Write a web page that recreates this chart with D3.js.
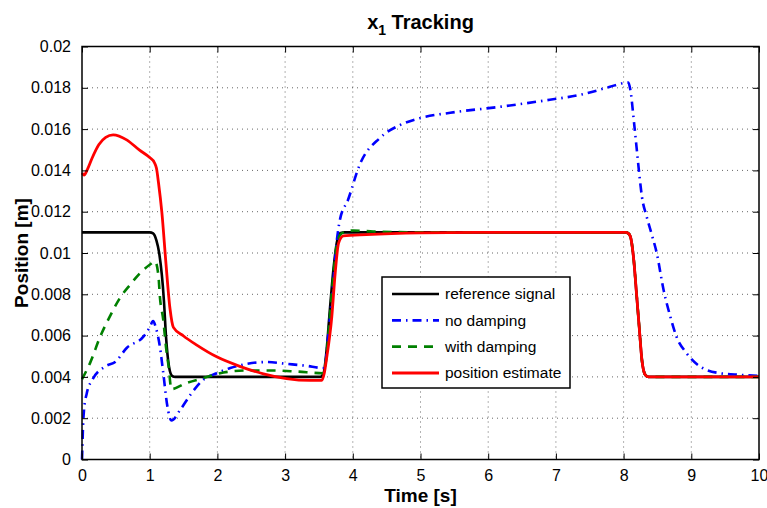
<!DOCTYPE html>
<html>
<head>
<meta charset="utf-8">
<script src="https://cdn.jsdelivr.net/npm/d3@7/dist/d3.min.js"></script>
<style>
  html, body { margin: 0; padding: 0; background: #fff; }
  svg { display: block; font-family: "Liberation Sans", Arial, Helvetica, sans-serif; }
</style>
</head>
<body>
<svg id="chart" width="767" height="508"></svg>
<script>
// ---- data ----
const xTicks = [0, 1, 2, 3, 4, 5, 6, 7, 8, 9, 10];
const yTicks = [0, 0.002, 0.004, 0.006, 0.008, 0.01, 0.012, 0.014, 0.016, 0.018, 0.02];
const yTickLabels = ["0", "0.002", "0.004", "0.006", "0.008", "0.01", "0.012", "0.014", "0.016", "0.018", "0.02"];
const seriesNames = ["reference signal", "no damping", "with damping", "position estimate"];

const referenceSignal = [
  [0, 0.011], [1.0, 0.011], [1.05, 0.01095], [1.1, 0.0106], [1.14, 0.01], [1.21, 0.0077],
  [1.24, 0.006], [1.285, 0.0045], [1.33, 0.00405], [1.38, 0.004], [3.52, 0.004],
  [3.57, 0.0042], [3.61, 0.0052], [3.66, 0.0072], [3.72, 0.0094], [3.77, 0.0106],
  [3.82, 0.01097], [3.88, 0.011], [8.03, 0.011], [8.07, 0.01095], [8.1, 0.0108],
  [8.15, 0.00967], [8.19, 0.00806], [8.23, 0.00644], [8.27, 0.00483], [8.32, 0.0041],
  [8.37, 0.004], [10, 0.004]
];

const noDamping = [
  [0, 0], [0.005, 0.0005], [0.015, 0.0016], [0.03, 0.0024], [0.07, 0.0032], [0.16, 0.0039],
  [0.34, 0.0045], [0.5, 0.00475], [0.66, 0.0054], [0.91, 0.00596], [1.0, 0.0064],
  [1.05, 0.0067], [1.09, 0.0064], [1.15, 0.00547], [1.2, 0.0042], [1.26, 0.0026],
  [1.32, 0.00189], [1.45, 0.0024], [1.6, 0.00313], [1.79, 0.00386], [1.99, 0.00418],
  [2.19, 0.00443], [2.43, 0.00463], [2.72, 0.00472], [3.02, 0.00463], [3.31, 0.00454],
  [3.56, 0.00443], [3.6, 0.0048], [3.64, 0.00612], [3.71, 0.00854], [3.76, 0.01048],
  [3.81, 0.01161], [3.93, 0.01258], [4.1, 0.01426], [4.4, 0.01557], [4.7, 0.0162],
  [5.0, 0.01654], [5.44, 0.01679], [6.17, 0.01708], [6.91, 0.01742], [7.36, 0.01766],
  [7.8, 0.01805], [8.0, 0.01823], [8.07, 0.01825], [8.1, 0.0179], [8.15, 0.01645],
  [8.19, 0.01516], [8.23, 0.01387], [8.27, 0.01274], [8.34, 0.01177], [8.41, 0.01096],
  [8.49, 0.00999], [8.59, 0.00822], [8.69, 0.00692], [8.78, 0.00596], [8.93, 0.00515],
  [9.13, 0.0045], [9.42, 0.00418], [9.72, 0.0041], [10, 0.00405]
];

const withDamping = [
  [0, 0.00389], [0.05, 0.0042], [0.12, 0.00468], [0.27, 0.00596], [0.41, 0.00692],
  [0.56, 0.00782], [0.71, 0.00846], [0.88, 0.0091], [1.0, 0.00943], [1.08, 0.00959],
  [1.13, 0.00886], [1.15, 0.0079], [1.2, 0.00677], [1.24, 0.00547], [1.28, 0.0045],
  [1.32, 0.00341], [1.54, 0.0037], [1.79, 0.00394], [2.09, 0.00421], [2.43, 0.00431],
  [2.83, 0.00431], [3.17, 0.00426], [3.56, 0.00418], [3.6, 0.0047], [3.65, 0.0065],
  [3.71, 0.0088], [3.77, 0.0105], [3.84, 0.01096], [4.01, 0.01109], [4.3, 0.01104],
  [5.0, 0.011], [8.03, 0.011], [8.07, 0.01095], [8.1, 0.0108], [8.15, 0.00967],
  [8.19, 0.00806], [8.23, 0.00644], [8.27, 0.00483], [8.32, 0.0041], [8.37, 0.004],
  [10, 0.004]
];

const positionEstimate = [
  [0, 0.01387], [0.03, 0.01377], [0.08, 0.01405], [0.15, 0.0146], [0.25, 0.01525],
  [0.35, 0.0156], [0.46, 0.01572], [0.66, 0.01548], [0.85, 0.01498], [1.0, 0.01462],
  [1.07, 0.01437], [1.1, 0.0141], [1.13, 0.0134], [1.18, 0.01195], [1.24, 0.0095],
  [1.3, 0.0073], [1.35, 0.0064], [1.5, 0.00598], [1.69, 0.00555], [1.99, 0.00497],
  [2.34, 0.0045], [2.68, 0.00415], [3.02, 0.00392], [3.37, 0.00383], [3.54, 0.00383],
  [3.58, 0.0042], [3.61, 0.00483], [3.69, 0.00692], [3.74, 0.00903], [3.79, 0.01048],
  [3.86, 0.01083], [4.2, 0.01089], [5.0, 0.01097], [6.0, 0.011], [8.03, 0.011],
  [8.07, 0.01095], [8.1, 0.0108], [8.15, 0.00967], [8.19, 0.00806], [8.23, 0.00644],
  [8.27, 0.00483], [8.32, 0.0041], [8.37, 0.004], [10, 0.004]
];

// ---- layout ----
const svg = d3.select("#chart");
const pL = 82, pR = 759, pT = 46.5, pB = 459.5;
const x = d3.scaleLinear().domain([0, 10]).range([pL, pR]);
const y = d3.scaleLinear().domain([0, 0.02]).range([pB, pT]);

const series = [
  { name: seriesNames[0], data: referenceSignal, color: "#000000", width: 2.6, dash: null },
  { name: seriesNames[1], data: noDamping, color: "#0000ff", width: 2.6, dash: "9,5,1.5,5" },
  { name: seriesNames[2], data: withDamping, color: "#008000", width: 2.6, dash: "9,7" },
  { name: seriesNames[3], data: positionEstimate, color: "#ff0000", width: 2.8, dash: null }
];

// grid
const grid = svg.append("g");
grid.selectAll("line.gx").data(xTicks.slice(1, -1)).join("line")
  .attr("x1", d => x(d)).attr("x2", d => x(d)).attr("y1", pT).attr("y2", pB)
  .attr("stroke", "#000").attr("stroke-opacity", 0.6).attr("stroke-width", 1)
  .attr("stroke-dasharray", "1,4");
grid.selectAll("line.gy").data(yTicks.slice(1, -1)).join("line")
  .attr("y1", d => y(d)).attr("y2", d => y(d)).attr("x1", pL).attr("x2", pR)
  .attr("stroke", "#000").attr("stroke-opacity", 0.6).attr("stroke-width", 1)
  .attr("stroke-dasharray", "1,4");

// lines
const line = d3.line().x(d => x(d[0])).y(d => y(d[1])).curve(d3.curveMonotoneX);
const lines = svg.append("g");
series.forEach(s => {
  lines.append("path").datum(s.data).attr("d", line)
    .attr("fill", "none").attr("stroke", s.color).attr("stroke-width", s.width)
    .attr("stroke-dasharray", s.dash).attr("stroke-linejoin", "round");
});

// axes (MATLAB box with inward ticks on all sides)
const tickLen = 6;
const axBottom = svg.append("g").attr("transform", `translate(0,${pB})`)
  .call(d3.axisBottom(x).tickValues(xTicks).tickSize(-tickLen).tickPadding(tickLen + 4).tickFormat(d3.format("d")));
const axTop = svg.append("g").attr("transform", `translate(0,${pT})`)
  .call(d3.axisTop(x).tickValues(xTicks).tickSize(-tickLen).tickFormat(""));
const axLeft = svg.append("g").attr("transform", `translate(${pL},0)`)
  .call(d3.axisLeft(y).tickValues(yTicks).tickSize(-tickLen).tickPadding(tickLen + 5).tickFormat((d, i) => yTickLabels[i]));
const axRight = svg.append("g").attr("transform", `translate(${pR},0)`)
  .call(d3.axisRight(y).tickValues(yTicks).tickSize(-tickLen).tickFormat(""));
[axBottom, axTop, axLeft, axRight].forEach(a => {
  a.select(".domain").remove();
  a.selectAll(".tick line").attr("stroke", "#000").attr("stroke-width", 1);
  a.selectAll("text").attr("font-size", 16).attr("fill", "#000")
    .attr("font-family", "'Liberation Sans', Arial, sans-serif");
});
svg.append("rect").attr("x", pL).attr("y", pT).attr("width", pR - pL).attr("height", pB - pT)
  .attr("fill", "none").attr("stroke", "#000").attr("stroke-width", 1.5);

// title
const title = svg.append("text").attr("x", (pL + pR) / 2).attr("y", 29)
  .attr("text-anchor", "middle").attr("font-weight", "bold").attr("font-size", 20);
title.append("tspan").text("x");
title.append("tspan").attr("font-size", 14).attr("dy", 6).text("1");
title.append("tspan").attr("dy", -6).text(" Tracking");

// axis labels
svg.append("text").attr("x", (pL + pR) / 2).attr("y", 502).attr("text-anchor", "middle")
  .attr("font-weight", "bold").attr("font-size", 19).text("Time [s]");
svg.append("text").attr("transform", `translate(28,${(pT + pB) / 2}) rotate(-90)`)
  .attr("text-anchor", "middle").attr("font-weight", "bold").attr("font-size", 19).text("Position [m]");

// legend
const lg = svg.append("g");
const lgX = 382, lgY = 277, lgW = 188, lgH = 111;
lg.append("rect").attr("x", lgX).attr("y", lgY).attr("width", lgW).attr("height", lgH)
  .attr("fill", "#fff").attr("stroke", "#000").attr("stroke-width", 1.5);
const rowY = d3.scalePoint().domain(seriesNames).range([294, 373]);
series.forEach(s => {
  const yy = rowY(s.name);
  lg.append("line").attr("x1", 392).attr("x2", 439).attr("y1", yy).attr("y2", yy)
    .attr("stroke", s.color).attr("stroke-width", s.width).attr("stroke-dasharray", s.dash);
  lg.append("text").attr("x", 445).attr("y", yy).attr("dy", "0.35em")
    .attr("font-size", 15.5).text(s.name);
});
</script>
</body>
</html>
